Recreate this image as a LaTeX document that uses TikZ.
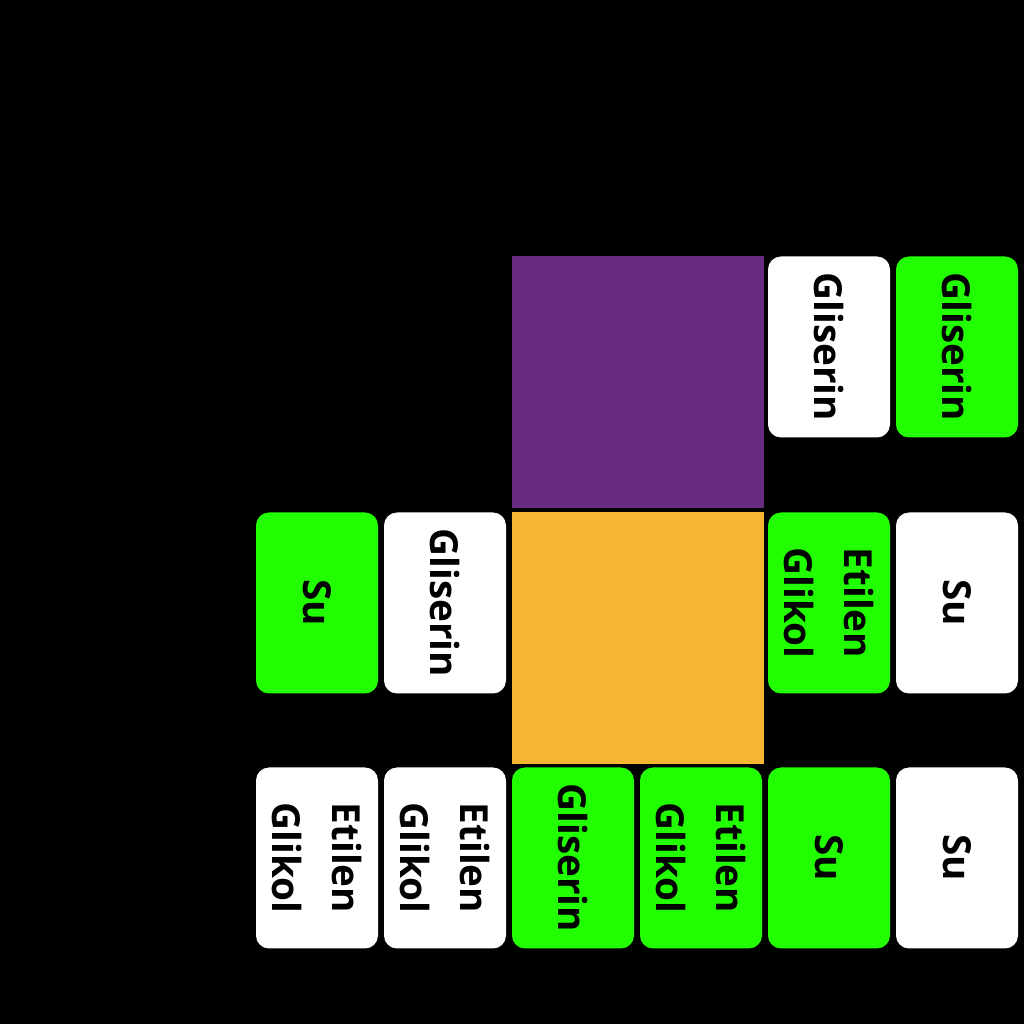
\documentclass[tikz,border=0pt]{standalone}
\usepackage{fontspec}
\setmainfont{Open Sans}
\usetikzlibrary{positioning}
\definecolor{cardgreen}{HTML}{22FF00}
\definecolor{sqpurple}{HTML}{662A80}
\definecolor{sqorange}{HTML}{F5B731}
\tikzset{%
  mycard/.style={rounded corners=0.26cm, minimum width=3.62cm, minimum height=2.44cm, rotate=-90, inner sep=0pt, align=center, font=\bfseries\fontsize{22}{34}\selectfont},
  greencard/.style={mycard, fill=cardgreen},
  whitecard/.style={mycard, fill=white},
  mysquare/.style={minimum size=5.04cm, inner sep=0pt}
}
\begin{document}
\begin{tikzpicture}
  \fill[black] (0,0) rectangle (20.48,20.48);
  \useasboundingbox (0,0) rectangle (20.48,20.48);
  \node[mysquare, fill=sqpurple] (pur) at (12.76,12.84) {};
  \node[mysquare, fill=sqorange] (org) at (12.76,7.72) {};
  % top row
  \node[whitecard] (t5) at (16.58,13.54) {Gliserin};
  \node[greencard] (t6) at (19.14,13.54) {Gliserin};
  % middle row
  \node[greencard] (m1) at (6.34,8.42) {Su};
  \node[whitecard] (m2) at (8.90,8.42) {Gliserin};
  \node[greencard] (m5) at (16.58,8.42) {Etilen\\Glikol};
  \node[whitecard] (m6) at (19.14,8.42) {Su};
  % bottom row
  \node[whitecard] (b1) at (6.34,3.32) {Etilen\\Glikol};
  \node[whitecard] (b2) at (8.90,3.32) {Etilen\\Glikol};
  \node[greencard] (b3) at (11.46,3.32) {Gliserin};
  \node[greencard] (b4) at (14.02,3.32) {Etilen\\Glikol};
  \node[greencard] (b5) at (16.58,3.32) {Su};
  \node[whitecard] (b6) at (19.14,3.32) {Su};
\end{tikzpicture}
\end{document}
